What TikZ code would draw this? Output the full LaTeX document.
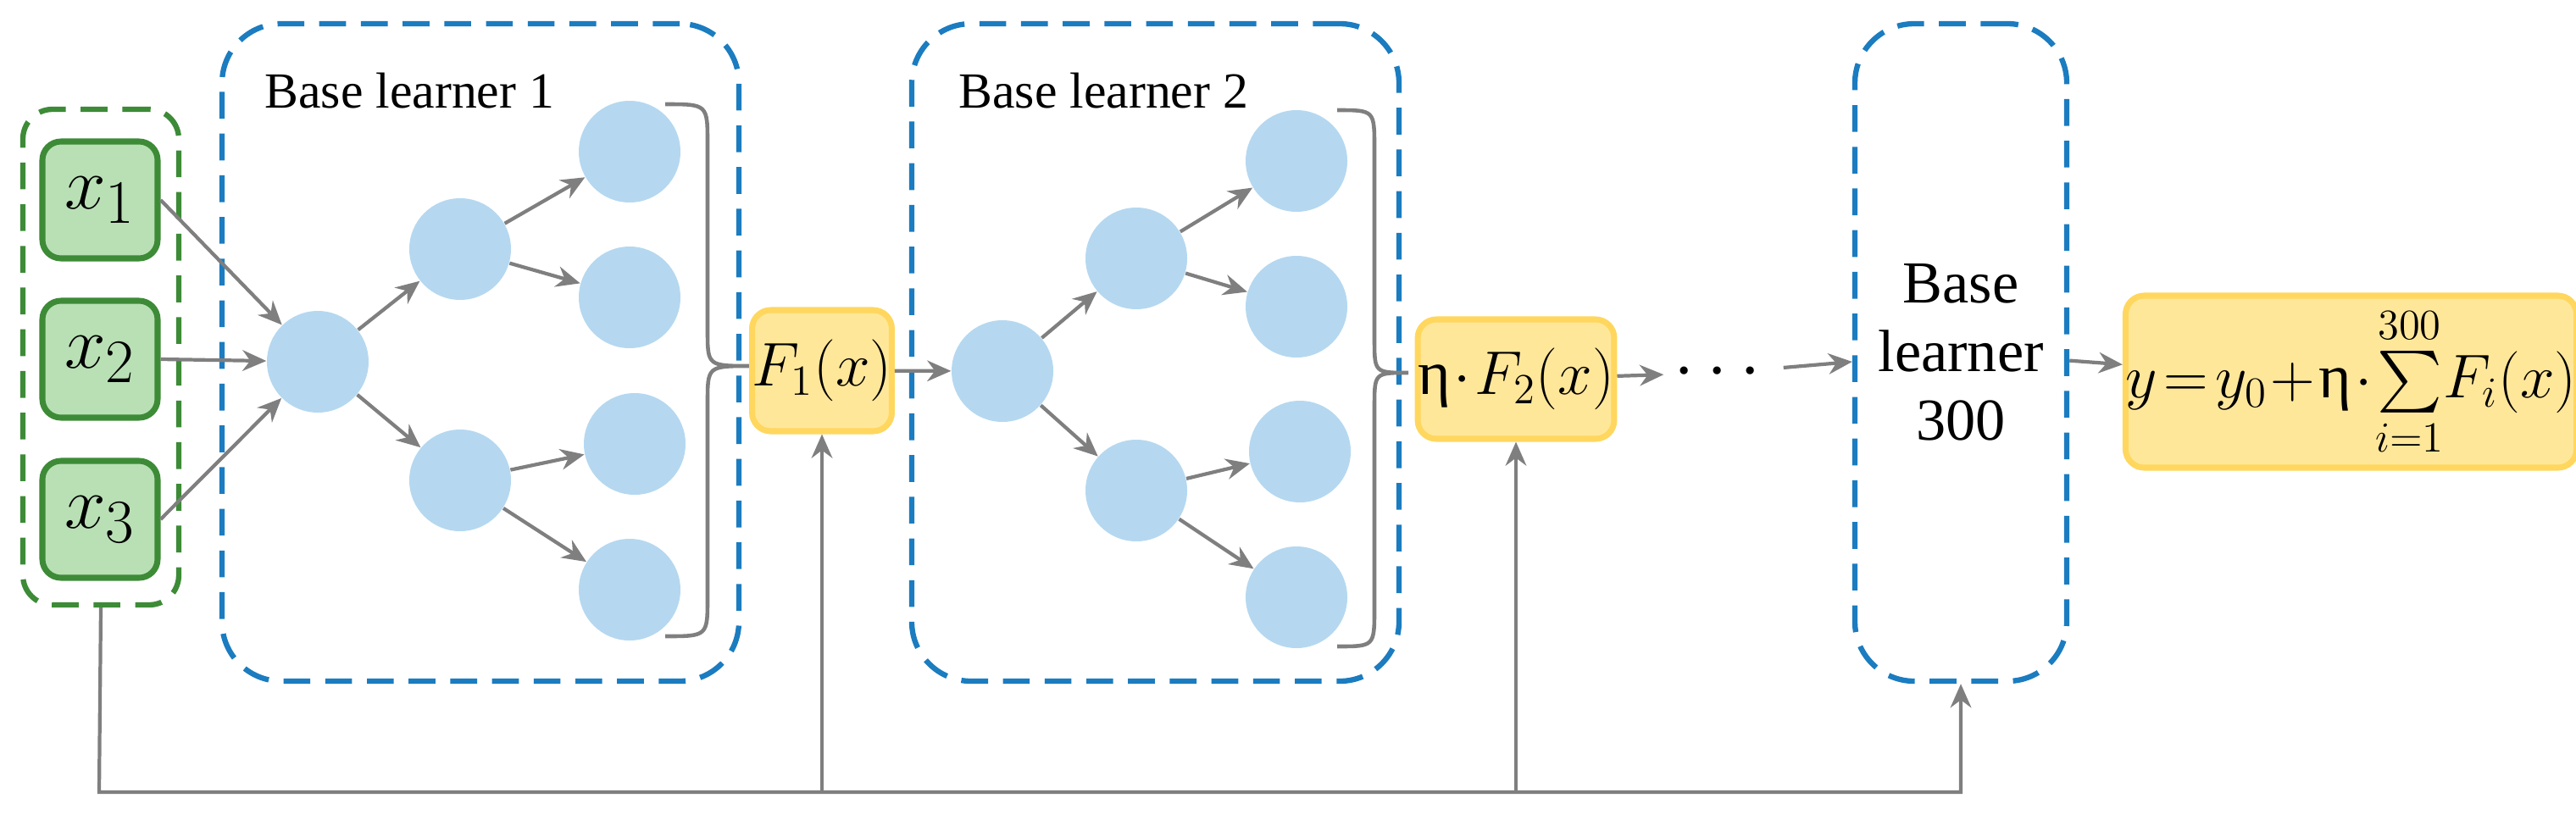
\documentclass[tikz,border=0pt]{standalone}
\usepackage{amsmath}
\usepackage{fontspec}
\setmainfont{Liberation Serif}
\setsansfont{Liberation Serif}
\usepackage{tikz}
\usetikzlibrary{arrows.meta}
\definecolor{ingreen}{HTML}{3D8B37}
\definecolor{inbox}{HTML}{B9E0B5}
\definecolor{learnblue}{HTML}{1B7CC0}
\definecolor{leafblue}{HTML}{B5D8F0}
\definecolor{outfill}{HTML}{FFE79A}
\definecolor{outline}{HTML}{FFD75E}
\definecolor{arrowgray}{HTML}{7F7F7F}
\newcommand{\upeta}{\text{\rmfamily η}}
\tikzstyle{inputs} = [rectangle, rounded corners=0.35cm, draw=ingreen, line width=1.8pt, dash pattern=on 9pt off 5pt, inner sep=0pt]
\tikzstyle{feature} = [rectangle, rounded corners=0.22cm, minimum width=1.36cm, minimum height=1.38cm, fill=inbox, draw=ingreen, line width=2pt, inner sep=0pt, font=\fontsize{32}{32}\selectfont]
\tikzstyle{learner} = [rectangle, rounded corners=0.7cm, draw=learnblue, line width=1.8pt, dash pattern=on 9pt off 5pt, minimum height=7.76cm, inner sep=0pt]
\tikzstyle{leaf} = [circle, fill=leafblue, minimum size=1.2cm, inner sep=0pt]
\tikzstyle{result} = [rectangle, rounded corners=0.22cm, fill=outfill, draw=outline, line width=2pt, inner sep=0pt, font=\fontsize{21}{21}\selectfont]
\tikzstyle{connect1} = [arrowgray, line width=1.2pt, -{Stealth[length=8pt,width=7pt]}]
\tikzstyle{brace} = [arrowgray, line width=1.3pt]

\begin{document}
\begin{tikzpicture}[font=\rmfamily\fontsize{17}{20}\selectfont]
	\useasboundingbox (0,0) rectangle (30.4,-9.61);
	% masukan
	\node (inputs) [inputs, minimum width=1.84cm, minimum height=5.85cm] at (1.19,-4.215) {};
	\node (x1) [feature] at (1.18,-2.36) {$x_1$};
	\node (x2) [feature] at (1.18,-4.24) {$x_2$};
	\node (x3) [feature] at (1.18,-6.13) {$x_3$};

	% base learner 1
	\node (bl1) [learner, minimum width=6.10cm] at (5.67,-4.16) {};
	\node (bl1txt) [anchor=west] at (3.0,-1.07) {Base learner 1};
	\node (r1) [leaf] at (3.75,-4.27) {};
	\node (a1) [leaf] at (5.43,-2.94) {};
	\node (b1) [leaf] at (5.43,-5.67) {};
	\node (a1u) [leaf] at (7.43,-1.79) {};
	\node (a1d) [leaf] at (7.43,-3.51) {};
	\node (b1u) [leaf] at (7.49,-5.24) {};
	\node (b1d) [leaf] at (7.43,-6.96) {};
	\draw [brace] (7.85,-1.23) .. controls (8.35,-1.23) .. (8.35,-1.7) -- (8.35,-3.9)
		.. controls (8.35,-4.32) .. (8.87,-4.32) .. controls (8.35,-4.32) .. (8.35,-4.75)
		-- (8.35,-7.05) .. controls (8.35,-7.51) .. (7.85,-7.51);
	\node (F1) [result, minimum width=1.38cm, minimum height=1.43cm] at (9.70,-4.375) {$F_1\!\left(x\right)$};

	% base learner 2
	\node (bl2) [learner, minimum width=5.75cm] at (13.635,-4.16) {};
	\node (bl2txt) [anchor=west] at (11.19,-1.07) {Base learner 2};
	\node (r2) [leaf] at (11.83,-4.38) {};
	\node (a2) [leaf] at (13.41,-3.05) {};
	\node (b2) [leaf] at (13.41,-5.79) {};
	\node (a2u) [leaf] at (15.30,-1.90) {};
	\node (a2d) [leaf] at (15.30,-3.62) {};
	\node (b2u) [leaf] at (15.34,-5.33) {};
	\node (b2d) [leaf] at (15.30,-7.05) {};
	\draw [brace] (15.78,-1.30) .. controls (16.22,-1.30) .. (16.22,-1.75) -- (16.22,-4.0)
		.. controls (16.22,-4.40) .. (16.62,-4.40) .. controls (16.22,-4.40) .. (16.22,-4.80)
		-- (16.22,-7.18) .. controls (16.22,-7.63) .. (15.78,-7.63);
	\node (F2) [result, minimum width=2.08cm, minimum height=1.41cm] at (17.89,-4.475) {$\upeta\!\cdot\! F_2\!\left(x\right)$};

	% base learner 300
	\node (dots) at (20.34,-4.40) {\fontsize{26}{26}\selectfont$\cdots$};
	\node (bl300) [learner, minimum width=2.5cm] at (23.14,-4.16) {};
	\node (bl300txt) [align=center, font=\rmfamily\fontsize{20}{23}\selectfont] at (bl300) {Base\\learner\\300};
	\node (out) [result, minimum width=4.87cm, minimum height=2.03cm] at (27.745,-4.505)
		{$y\!=\!y_0\!+\!\upeta\!\cdot\!\sum\limits_{i=1}^{300}\!F_i\!\left(x\right)$};

	% garis koneksi
	\draw [connect1] (x1.east) -- (r1);
	\draw [connect1] (x2.east) -- (r1);
	\draw [connect1] (x3.east) -- (r1);
	\draw [connect1] (r1) -- (a1);
	\draw [connect1] (r1) -- (b1);
	\draw [connect1] (a1) -- (a1u);
	\draw [connect1] (a1) -- (a1d);
	\draw [connect1] (b1) -- (b1u);
	\draw [connect1] (b1) -- (b1d);
	\draw [connect1] (F1) -- (r2);
	\draw [connect1] (r2) -- (a2);
	\draw [connect1] (r2) -- (b2);
	\draw [connect1] (a2) -- (a2u);
	\draw [connect1] (a2) -- (a2d);
	\draw [connect1] (b2) -- (b2u);
	\draw [connect1] (b2) -- (b2d);
	\draw [connect1] (F2) -- (dots);
	\draw [connect1] (dots) -- (bl300);
	\draw [connect1] (bl300) -- (out);

	% jalur bawah
	\coordinate (bot) at (1.17,-9.35);
	\coordinate (j1) at (F1.south |- bot);
	\coordinate (j2) at (F2.south |- bot);
	\draw [connect1] (inputs.south) -- (bot) -| (bl300.south);
	\draw [connect1] (j1) -- (F1.south);
	\draw [connect1] (j2) -- (F2.south);
\end{tikzpicture}
\end{document}
